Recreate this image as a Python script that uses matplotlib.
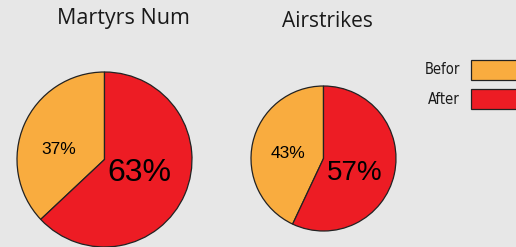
import numpy as np
import matplotlib.pyplot as plt
from matplotlib.patches import Rectangle

# before / after shares
groups = ['Befor', 'After']
martyrs = [37, 63]
airstrikes = [43, 57]
colors = ['#f9ac3f', '#ed1c24']

W, H = 516, 247
fig = plt.figure(figsize=(W / 100, H / 100), dpi=100)
fig.patch.set_facecolor('#e7e7e7')
ax = fig.add_axes([0, 0, 1, 1])

def draw_pie(vals, cx, cy, r, title, tx, ty, tsize, lab_spec):
    # cy measured from top in pixels, convert
    c = (cx, H - cy)
    wedges, _ = ax.pie(vals, colors=colors, startangle=90, center=c, radius=r,
                       wedgeprops=dict(edgecolor='#222222', linewidth=0.9))
    ax.text(tx, H - ty, title, ha='center', va='center', fontsize=tsize,
            family='Open Sans', color='#1a1a1a')
    for w, v, (ang, dist, fs) in zip(wedges, vals, lab_spec):
        a = np.deg2rad(ang)
        ax.text(c[0] + dist * r * np.cos(a), c[1] + dist * r * np.sin(a), '%d%%' % v,
                ha='center', va='center', fontsize=fs, family='Liberation Sans', color='black')

draw_pie(martyrs, 104.5, 159.5, 87.5, 'Martyrs Num', 123, 19, 15.5,
         [(168, 0.53, 12.5), (-20.5, 0.43, 23)])
draw_pie(airstrikes, 323.5, 158.5, 72.5, 'Airstrikes', 327, 22, 15,
         [(172, 0.49, 12.5), (-24.5, 0.48, 20)])

# legend
for i, (g, col) in enumerate(zip(groups, colors)):
    y = H - (70 + 29 * i)
    ax.add_patch(Rectangle((471, y - 10), 60, 20, facecolor=col, edgecolor='#222222',
                           linewidth=0.9, clip_on=False))
    ax.text(460, y, g, ha='right', va='center', fontsize=10.5, stretch='condensed',
            family=['DejaVu Sans'], color='#1a1a1a')

ax.set_xlim(0, W)
ax.set_ylim(0, H)
ax.set_aspect('auto')
ax.axis('off')

fig.savefig('out.png', dpi=100, facecolor=fig.get_facecolor())
